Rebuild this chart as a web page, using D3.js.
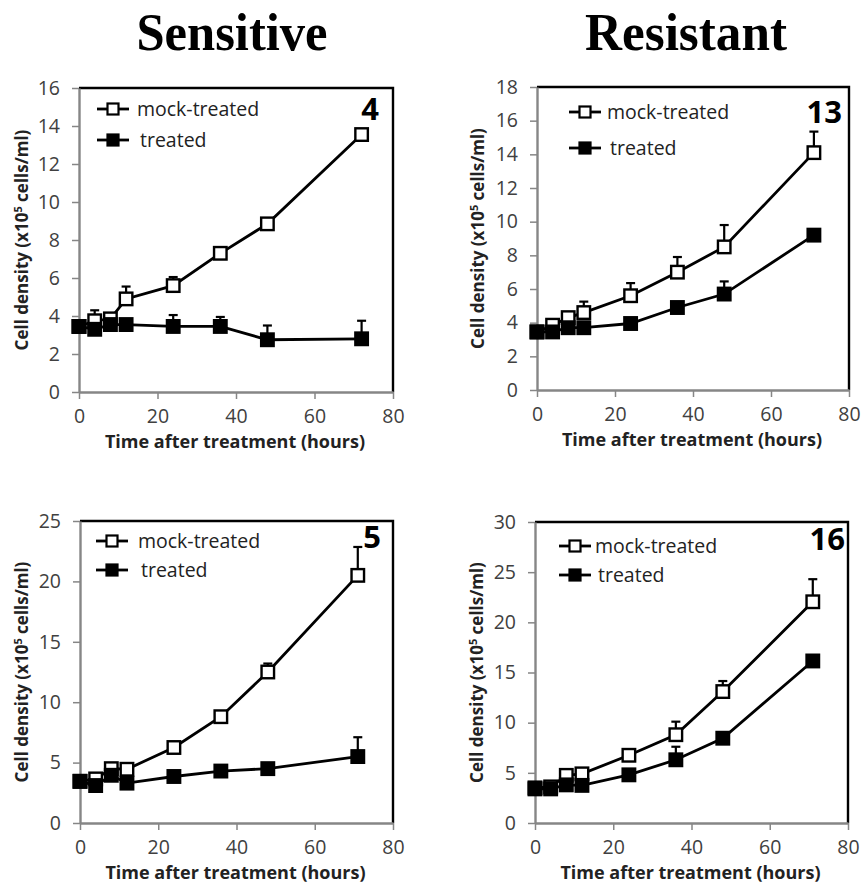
<!DOCTYPE html>
<html>
<head>
<meta charset="utf-8">
<script src="https://cdn.jsdelivr.net/npm/d3@7/dist/d3.min.js"></script>
<style>
  html, body { margin: 0; padding: 0; background: #fff; }
  svg { display: block; }
</style>
</head>
<body>
<svg id="chart" width="865" height="883"></svg>
<script>
// ---------------- DATA ----------------
const columnTitles = ["Sensitive", "Resistant"];
const seriesNames = ["mock-treated", "treated"];
const xTicks = [0, 20, 40, 60, 80];
const xLabel = "Time after treatment (hours)";

// Panel "4" (Sensitive, top)
const hours4 = [0, 4, 8, 12, 24, 36, 48, 72];
const mock4 = [3.45, 3.75, 3.85, 4.9, 5.6, 7.3, 8.85, 13.55];
const mock4Err = [0, 0.55, 0.1, 0.65, 0.45, 0.3, 0.25, 0.1];
const treated4 = [3.45, 3.3, 3.55, 3.55, 3.45, 3.45, 2.75, 2.8];
const treated4Err = [0, 0.1, 0.1, 0.1, 0.6, 0.5, 0.75, 0.95];
const yTicks4 = [0, 2, 4, 6, 8, 10, 12, 14, 16];

// Panel "13" (Resistant, top)
const hours13 = [0, 4, 8, 12, 24, 36, 48, 71];
const mock13 = [3.45, 3.85, 4.3, 4.6, 5.6, 7.0, 8.5, 14.1];
const mock13Err = [0.1, 0.15, 0.15, 0.65, 0.75, 0.9, 1.3, 1.25];
const treated13 = [3.45, 3.45, 3.7, 3.7, 3.95, 4.9, 5.7, 9.2];
const treated13Err = [0.1, 0.1, 0.1, 0.1, 0.1, 0.1, 0.75, 0.2];
const yTicks13 = [0, 2, 4, 6, 8, 10, 12, 14, 16, 18];

// Panel "5" (Sensitive, bottom)
const hours5 = [0, 4, 8, 12, 24, 36, 48, 71];
const mock5 = [3.45, 3.65, 4.5, 4.45, 6.25, 8.8, 12.5, 20.5];
const mock5Err = [0.1, 0.1, 0.1, 0.1, 0.1, 0.1, 0.7, 2.35];
const treated5 = [3.45, 3.1, 3.95, 3.3, 3.85, 4.3, 4.5, 5.5];
const treated5Err = [0.1, 0.1, 0.1, 0.1, 0.1, 0.1, 0.1, 1.6];
const yTicks5 = [0, 5, 10, 15, 20, 25];

// Panel "16" (Resistant, bottom)
const hours16 = [0, 4, 8, 12, 24, 36, 48, 71];
const mock16 = [3.5, 3.6, 4.75, 4.9, 6.75, 8.8, 13.1, 22.05];
const mock16Err = [0.1, 0.1, 0.4, 0.1, 0.1, 1.3, 1.05, 2.25];
const treated16 = [3.4, 3.4, 3.8, 3.75, 4.8, 6.3, 8.45, 16.15];
const treated16Err = [0.1, 0.1, 0.1, 0.1, 0.1, 1.3, 0.1, 0.1];
const yTicks30 = [0, 5, 10, 15, 20, 25, 30];

// ---------------- LAYOUT ----------------
const panels = [
  { id: "4",  hours: hours4,  mock: mock4,  mockErr: mock4Err,  treated: treated4,  treatedErr: treated4Err,  yTicks: yTicks4,
    box: { l: 79, t: 88, r: 393, b: 392 }, ylabX: 22, legend: { x: 113, y1: 109, y2: 140, tx: 137 }, num: { x: 379, y: 120 } },
  { id: "13", hours: hours13, mock: mock13, mockErr: mock13Err, treated: treated13, treatedErr: treated13Err, yTicks: yTicks13,
    box: { l: 537, t: 87, r: 849, b: 390 }, ylabX: 478, legend: { x: 585, y1: 112, y2: 148, tx: 607 }, num: { x: 842, y: 123 } },
  { id: "5",  hours: hours5,  mock: mock5,  mockErr: mock5Err,  treated: treated5,  treatedErr: treated5Err,  yTicks: yTicks5,
    box: { l: 80, t: 521, r: 393, b: 823 }, ylabX: 22, legend: { x: 112, y1: 541, y2: 570, tx: 138 }, num: { x: 381, y: 548 } },
  { id: "16", hours: hours16, mock: mock16, mockErr: mock16Err, treated: treated16, treatedErr: treated16Err, yTicks: yTicks30,
    box: { l: 535, t: 522, r: 848, b: 823 }, ylabX: 477, legend: { x: 575, y1: 546, y2: 575, tx: 595 }, num: { x: 845, y: 550 } }
];

const svg = d3.select("#chart");
const sansFont = "'Open Sans', 'Noto Sans', sans-serif";
const axisGray = "#868686";
const textGray = "#404040";

// Column titles
const titleCenters = [232, 686];
svg.selectAll("text.coltitle").data(columnTitles).join("text")
  .attr("class", "coltitle")
  .attr("x", (d, i) => titleCenters[i])
  .attr("y", 50)
  .attr("text-anchor", "middle")
  .style("font-family", "'Liberation Serif', 'DejaVu Serif', serif")
  .style("font-weight", "bold")
  .style("font-size", "52px")
  .attr("textLength", (d, i) => i === 0 ? 191 : 202)
  .attr("lengthAdjust", "spacingAndGlyphs")
  .attr("fill", "#000")
  .text(d => d);

panels.forEach(p => {
  const B = p.box;
  const x = d3.scaleLinear().domain([0, 80]).range([B.l, B.r]);
  const yMax = p.yTicks[p.yTicks.length - 1];
  const y = d3.scaleLinear().domain([0, yMax]).range([B.b, B.t]);
  const g = svg.append("g");

  // frame: top & right black
  g.append("path")
    .attr("d", `M${B.l},${B.t}H${B.r}V${B.b}`)
    .attr("fill", "none").attr("stroke", "#000").attr("stroke-width", 2.4);

  // Y axis
  const yAxis = g.append("g").attr("transform", `translate(${B.l},0)`)
    .call(d3.axisLeft(y).tickValues(p.yTicks).tickSize(7).tickPadding(12).tickSizeOuter(0));
  yAxis.select(".domain").attr("stroke", axisGray).attr("stroke-width", 2.4);
  yAxis.selectAll(".tick line").attr("stroke", axisGray).attr("stroke-width", 1.5);
  yAxis.selectAll(".tick text").attr("fill", textGray)
    .style("font-family", sansFont).style("font-size", "19.5px");

  // X axis
  const xAxis = g.append("g").attr("transform", `translate(0,${B.b})`)
    .call(d3.axisBottom(x).tickValues(xTicks).tickSize(7).tickPadding(10).tickSizeOuter(0));
  xAxis.select(".domain").attr("stroke", axisGray).attr("stroke-width", 2.4);
  xAxis.selectAll(".tick line").attr("stroke", axisGray).attr("stroke-width", 1.5);
  xAxis.selectAll(".tick text").attr("fill", textGray)
    .style("font-family", sansFont).style("font-size", "19.5px");

  // X title
  g.append("text")
    .attr("x", (B.l + B.r) / 2 - 1).attr("y", B.b + 56)
    .attr("text-anchor", "middle")
    .style("font-family", sansFont).style("font-weight", "bold").style("font-size", "18px")
    .attr("fill", "#222")
    .text(xLabel);

  // Y title
  const yt = g.append("text")
    .attr("transform", `translate(${p.ylabX + 6},${(B.t + B.b) / 2}) rotate(-90)`)
    .attr("text-anchor", "middle")
    .style("font-family", sansFont).style("font-weight", "bold").style("font-size", "17px")
    .attr("fill", "#222");
  yt.append("tspan").text("Cell density (x10");
  yt.append("tspan").attr("dy", -6).style("font-size", "11px").text("5");
  yt.append("tspan").attr("dy", 6).text(" cells/ml)");

  const series = [
    { vals: p.mock, err: p.mockErr, fill: "#fff" },
    { vals: p.treated, err: p.treatedErr, fill: "#000" }
  ];
  const line = d3.line().x(d => x(d.h)).y(d => y(d.v));
  const sq = 12.5;

  series.forEach(s => {
    const pts = p.hours.map((h, i) => ({ h, v: s.vals[i], e: s.err[i] }));
    // error bars (upper only)
    const eg = g.append("g");
    eg.selectAll("line.eb").data(pts).join("line")
      .attr("x1", d => x(d.h)).attr("x2", d => x(d.h))
      .attr("y1", d => y(d.v)).attr("y2", d => y(d.v + d.e))
      .attr("stroke", "#000").attr("stroke-width", 2.2);
    eg.selectAll("line.cap").data(pts.filter(d => d.e > 0.15)).join("line")
      .attr("x1", d => x(d.h) - 4.5).attr("x2", d => x(d.h) + 4.5)
      .attr("y1", d => y(d.v + d.e)).attr("y2", d => y(d.v + d.e))
      .attr("stroke", "#000").attr("stroke-width", 2.2);
    g.append("path").datum(pts).attr("d", line)
      .attr("fill", "none").attr("stroke", "#000").attr("stroke-width", 2.8);
    g.selectAll(null).data(pts).join("rect")
      .attr("x", d => x(d.h) - sq / 2).attr("y", d => y(d.v) - sq / 2)
      .attr("width", sq).attr("height", sq)
      .attr("fill", s.fill).attr("stroke", "#000").attr("stroke-width", 2.4);
  });

  // Legend
  const L = p.legend;
  seriesNames.forEach((name, i) => {
    const ly = i === 0 ? L.y1 : L.y2;
    g.append("line").attr("x1", L.x - 16).attr("x2", L.x + 16).attr("y1", ly).attr("y2", ly)
      .attr("stroke", "#000").attr("stroke-width", 2.8);
    g.append("rect").attr("x", L.x - 5.5).attr("y", ly - 5.5).attr("width", 11).attr("height", 11)
      .attr("fill", i === 0 ? "#fff" : "#000").attr("stroke", "#000").attr("stroke-width", 2.2);
    g.append("text").attr("x", L.tx + (i === 0 ? 0 : 3)).attr("y", ly)
      .attr("dy", "0.35em")
      .style("font-family", sansFont).style("font-size", "19.5px")
      .attr("fill", "#222")
      .text(name);
  });

  // Panel number
  g.append("text").attr("x", p.num.x).attr("y", p.num.y)
    .attr("text-anchor", "end")
    .style("font-family", sansFont).style("font-weight", "bold").style("font-size", "31px")
    .attr("fill", "#000")
    .text(p.id);
});
</script>
</body>
</html>
